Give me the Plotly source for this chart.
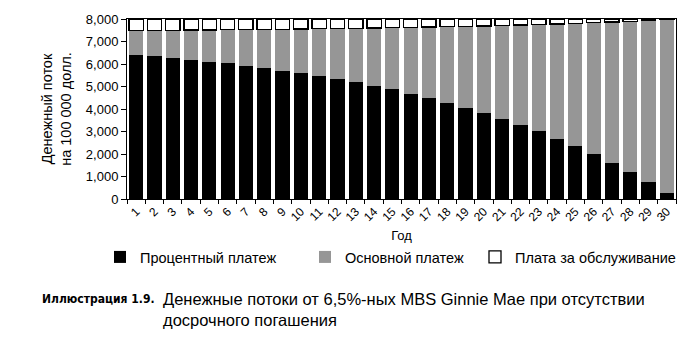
import plotly.graph_objects as go

years = [str(i) for i in range(1, 31)]
interest = [6400, 6350, 6270, 6180, 6090, 6040, 5910, 5820, 5690, 5600,
            5470, 5330, 5200, 5020, 4890, 4670, 4490, 4270, 4040, 3820,
            3560, 3290, 3020, 2670, 2360, 2000, 1600, 1200, 760, 270]
principal = [1092, 1146, 1232, 1329, 1426, 1479, 1619, 1716, 1856, 1953,
             2093, 2244, 2384, 2578, 2718, 2955, 3149, 3386, 3633, 3870,
             4150, 4441, 4732, 5109, 5442, 5830, 6261, 6692, 7166, 7693]
servicing = [492, 488, 482, 475, 468, 465, 455, 448, 438, 431,
             421, 410, 400, 386, 376, 359, 345, 328, 311, 294,
             274, 253, 232, 205, 182, 154, 123, 92, 58, 21]
y_ticks = [0, 1000, 2000, 3000, 4000, 5000, 6000, 7000, 8000]

FONT = "Liberation Sans, Arial, sans-serif"
W, H = 696, 340
L, R, T, B = 127, 20, 19, 141
PH = H - T - B
PW = W - L - R


def py(ypix):
    return (H - B - ypix) / PH


def px(xpix):
    return (xpix - L) / PW


fig = go.Figure()
fig.add_bar(x=years, y=interest, name="Процентный платеж", legend="legend",
            marker=dict(color="#000000", line=dict(width=0)))
fig.add_bar(x=years, y=principal, name="Основной платеж", legend="legend2",
            marker=dict(color="#969696", line=dict(width=0)))
fig.add_bar(x=years, y=servicing, name="Плата за обслуживание", legend="legend3",
            marker=dict(color="#ffffff", line=dict(color="#000000", width=1.3)))


def leg(xpix):
    return dict(orientation="h", x=px(xpix), xanchor="left", y=py(257), yanchor="middle",
                font=dict(family=FONT, size=14.5), itemwidth=30,
                bgcolor="rgba(0,0,0,0)")


fig.update_layout(
    barmode="stack",
    bargap=0.22,
    width=W, height=H,
    margin=dict(l=L, r=R, t=T, b=B, pad=0),
    paper_bgcolor="white", plot_bgcolor="white",
    font=dict(family=FONT, size=13, color="#000000"),
    showlegend=True,
    legend=leg(100),
    legend2=leg(305),
    legend3=leg(475),
    xaxis=dict(tickangle=-45, tickfont=dict(family=FONT, size=12),
               showline=True, linecolor="#000", linewidth=1, mirror=True,
               ticks="outside", ticklen=4, tickcolor="#000", tickson="boundaries",
               title=dict(text="Год", font=dict(family=FONT, size=13), standoff=7)),
    yaxis=dict(range=[0, 8000], tickvals=y_ticks,
               ticktext=[f"{v:,}" for v in y_ticks],
               tickfont=dict(family=FONT, size=13),
               showline=True, linecolor="#000", linewidth=1, mirror=True,
               ticks="outside", ticklen=5, tickcolor="#000", showgrid=False,
               zeroline=False,
               title=dict(text="Денежный поток<br>на 100 000 долл.",
                          font=dict(family=FONT, size=14.5), standoff=10)),
)

fig.add_annotation(xref="paper", yref="paper", x=px(40), y=py(299),
                   xanchor="left", yanchor="middle", showarrow=False,
                   text="<b>Иллюстрация 1.9.</b>",
                   font=dict(family="DejaVu Sans Condensed, Liberation Sans, sans-serif",
                             size=12, color="#000"))
fig.add_annotation(xref="paper", yref="paper", x=px(161), y=py(309.5),
                   xanchor="left", yanchor="middle", showarrow=False, align="left",
                   text="Денежные потоки от 6,5%-ных MBS Ginnie Mae при отсутствии<br>досрочного погашения",
                   font=dict(family=FONT, size=16.5, color="#000"))

fig.write_html("out.html")
